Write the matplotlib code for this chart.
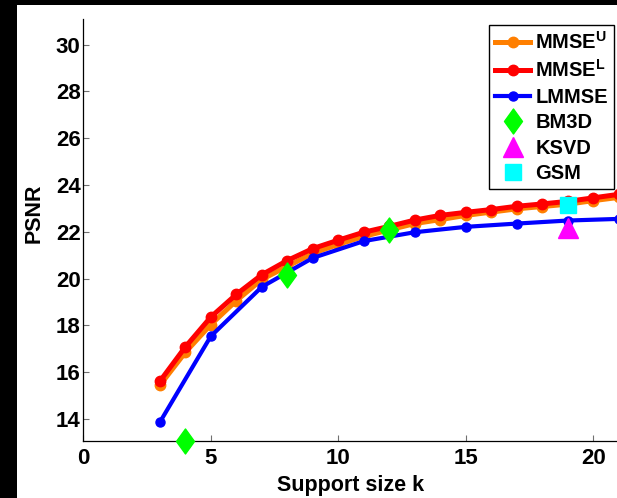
import matplotlib
matplotlib.use("Agg")
import matplotlib.pyplot as plt
from matplotlib.patches import Rectangle
from matplotlib.path import Path

# Support sizes and PSNR curves
k_full = [3, 4, 5, 6, 7, 8, 9, 10, 11, 12, 13, 14, 15, 16, 17, 18, 19, 20, 21]
mmse_u = [15.43, 16.84, 18.03, 19.05, 19.96, 20.52, 21.08, 21.46, 21.80, 22.08,
          22.35, 22.52, 22.70, 22.84, 22.98, 23.08, 23.18, 23.33, 23.47]
mmse_l = [15.60, 17.07, 18.35, 19.32, 20.16, 20.77, 21.28, 21.64, 21.98, 22.23,
          22.50, 22.70, 22.83, 22.95, 23.09, 23.19, 23.30, 23.45, 23.60]
k_odd = [3, 5, 7, 9, 11, 13, 15, 17, 19, 21]
lmmse = [13.85, 17.53, 19.64, 20.88, 21.60, 21.98, 22.21, 22.35, 22.48, 22.55]

# Reference methods
bm3d_k = [4, 8, 12]
bm3d_psnr = [13.04, 20.13, 22.06]
ksvd_k = [19]
ksvd_psnr = [22.17]
gsm_k = [19]
gsm_psnr = [23.16]

x_ticks = [0, 5, 10, 15, 20]
y_ticks = [14, 16, 18, 20, 22, 24, 26, 28, 30]

plt.rcParams["font.family"] = ["Liberation Sans", "DejaVu Sans"]
plt.rcParams["font.weight"] = "bold"
plt.rcParams["mathtext.fontset"] = "custom"
plt.rcParams["mathtext.rm"] = "Liberation Sans:bold"
plt.rcParams["mathtext.bf"] = "Liberation Sans:bold"

W, H = 617, 498
fig = plt.figure(figsize=(W / 100, H / 100), dpi=100)
fig.patch.set_facecolor("white")

# dark border strips
fig.add_artist(Rectangle((0, 0), 17 / W, 1, transform=fig.transFigure,
                         facecolor="black", edgecolor="none", zorder=10))
fig.add_artist(Rectangle((0, 1 - 5 / H), 1, 5 / H, transform=fig.transFigure,
                         facecolor="black", edgecolor="none", zorder=10))

left, bottom, top = 83.3, 441, 19
ax = fig.add_axes([left / W, (H - bottom) / H, 1 - left / W, (bottom - top) / H])

orange = "#FF7F00"
ax.plot(k_full, mmse_u, "-o", color=orange, lw=3.6, ms=7.5, label=r"MMSE$^\mathbf{U}$")
ax.plot(k_full, mmse_l, "-o", color="#FF0000", lw=3.6, ms=7.5, label=r"MMSE$^\mathbf{L}$")
ax.plot(k_odd, lmmse, "-o", color="#0000FF", lw=3.0, ms=6.5, label="LMMSE")

diamond = Path([(0, 1), (0.72, 0), (0, -1), (-0.72, 0), (0, 1)],
               [Path.MOVETO, Path.LINETO, Path.LINETO, Path.LINETO, Path.CLOSEPOLY])
ax.plot(bm3d_k, bm3d_psnr, linestyle="none", marker=diamond, ms=18,
        color="#00FF00", mec="#00FF00", label="BM3D", clip_on=False, zorder=5)
ax.plot(ksvd_k, ksvd_psnr, linestyle="none", marker="^", ms=15,
        color="#FF00FF", mec="#FF00FF", label="KSVD", clip_on=False, zorder=5)
ax.plot(gsm_k, gsm_psnr, linestyle="none", marker="s", ms=11,
        color="#00FFFF", mec="#00FFFF", label="GSM", clip_on=False, zorder=5)

ax.set_xlim(0, (W - left) / 25.5)
ax.set_ylim(13.05, 31.1)
ax.set_xticks(x_ticks)
ax.set_yticks(y_ticks)
ax.spines["top"].set_visible(False)
ax.spines["right"].set_visible(False)
for s in ("left", "bottom"):
    ax.spines[s].set_linewidth(0.9)
ax.tick_params(direction="in", length=4, width=0.8, color="#707070",
               labelsize=16)
ax.tick_params(axis="x", pad=5)
ax.tick_params(axis="y", pad=2)
for lab in ax.get_xticklabels() + ax.get_yticklabels():
    lab.set_fontweight("bold")

ax.set_xlabel("Support size k", fontsize=15.5, fontweight="bold")
ax.set_ylabel("PSNR", fontsize=15.5, fontweight="bold")
ax.xaxis.set_label_coords((277 - left) / (W - left), -(485 - bottom) / (bottom - top),
                          transform=ax.transAxes)
ax.yaxis.set_label_coords(-(left - 34) / (W - left), (bottom - 213) / (bottom - top),
                          transform=ax.transAxes)
ax.xaxis.label.set_va("center")
ax.xaxis.label.set_ha("left")
ax.yaxis.label.set_va("center")

leg = ax.legend(loc="upper right", bbox_to_anchor=(614 / W, 1 - 25 / H),
                bbox_transform=fig.transFigure, borderaxespad=0,
                fancybox=False, framealpha=1, edgecolor="black",
                handlelength=1.75, handletextpad=0.25,
                labelspacing=0.32, borderpad=0.3, numpoints=1,
                prop={"weight": "bold", "size": 14.5})
leg.get_frame().set_linewidth(1.0)

fig.savefig("out.png", dpi=100, facecolor="white")
